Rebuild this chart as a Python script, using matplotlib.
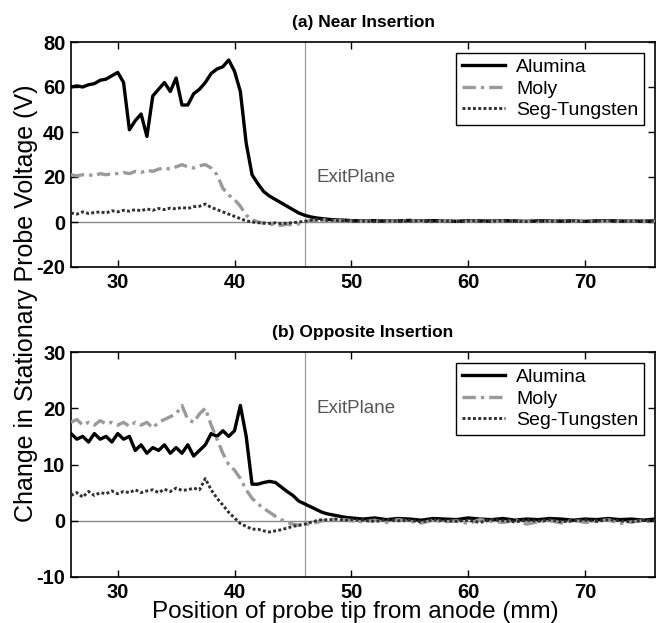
import numpy as np
import matplotlib
matplotlib.use("Agg")
import matplotlib.pyplot as plt

plt.rcParams['font.family'] = ['Liberation Sans', 'DejaVu Sans']
plt.rcParams['axes.unicode_minus'] = False

x = [26.0, 26.5, 27.0, 27.5, 28.0, 28.5, 29.0, 29.5, 30.0, 30.5,
     31.0, 31.5, 32.0, 32.5, 33.0, 33.5, 34.0, 34.5, 35.0, 35.5,
     36.0, 36.5, 37.0, 37.5, 38.0, 38.5, 39.0, 39.5, 40.0, 40.5,
     41.0, 41.5, 42.0, 42.5, 43.0, 43.5, 44.0, 44.5, 45.0, 45.5,
     46.0, 46.5, 47.0, 47.5, 48.0, 48.5, 49.0, 49.5, 50.0,
     51, 52, 53, 54, 55, 56, 57, 58, 59, 60, 61, 62, 63, 64, 65,
     66, 67, 68, 69, 70, 71, 72, 73, 74, 75, 76]

near_alumina = [60, 60.5, 60, 61, 61.5, 63, 63.5, 65, 66.5, 62,
                41, 45, 48, 38, 56, 59, 62, 58, 64, 52,
                52, 57, 59, 62, 66, 68, 69, 72, 67, 58,
                35, 21, 17, 13.5, 11.5, 10, 8.5, 7, 5.5, 4,
                3, 2.3, 1.8, 1.5, 1.2, 1.0, 0.9, 0.8, 0.6,
                0.5, 0.6, 0.4, 0.5, 0.7, 0.4, 0.6, 0.5, 0.3, 0.6, 0.5, 0.4, 0.6,
                0.5, 0.3, 0.5, 0.6, 0.4, 0.5, 0.3, 0.5, 0.6, 0.4, 0.5, 0.3, 0.6]
near_moly = [21, 20.5, 21, 21, 20.5, 21.5, 21, 21.5, 21.5, 22,
             21.5, 22.5, 22, 23, 22.5, 23.5, 24, 23.5, 24.5, 25.5,
             24.5, 24, 25, 25.5, 24, 21, 15, 12, 10, 7,
             3, 1, 0, -0.5, -1, -1.2, -1.5, -1, -1.3, -0.8,
             0, 0.5, 0.8, 1, 0.8, 0.6, 0.7, 0.5, 0.4,
             0.3, 0.5, 0.2, 0.4, 0.6, 0.3, 0.2, 0.5, 0.4, 0.3, 0.6, 0.2, 0.4,
             0.5, 0.3, 0.2, 0.4, 0.5, 0.3, 0.6, 0.2, 0.4, 0.3, 0.5, 0.2, 0.4]
near_segw = [4, 3.5, 4.5, 3.8, 4.2, 4.5, 4, 5, 4.5, 5.2,
             4.8, 5.5, 5, 5.8, 5.2, 6, 5.5, 6.2, 5.8, 6.5,
             6, 6.8, 7, 8, 6.5, 5.5, 4.5, 3.5, 2.5, 1.5,
             0.5, 0, -0.3, -0.5, -0.6, -0.4, -0.7, -0.5, -0.3, 0,
             0.3, 0.8, 1, 0.9, 0.7, 0.8, 0.5, 0.6, 0.4,
             0.4, 0.2, 0.5, 0.3, 0.4, 0.6, 0.3, 0.5, 0.2, 0.4, 0.7, 0.3, 0.5,
             0.4, 0.2, 0.6, 0.3, 0.4, 0.5, 0.2, 0.4, 0.6, 0.3, 0.4, 0.5, 0.3]

opp_alumina = [15.5, 14.5, 15, 14, 15.5, 14.5, 15, 14, 15.5, 14.5,
               15, 12.5, 13.5, 12, 13, 12.5, 13.5, 12, 13, 12,
               13.5, 11.5, 12.5, 13.5, 15.5, 15, 16, 15, 16, 20.5,
               15, 6.5, 6.5, 6.8, 7, 6.8, 6, 5.2, 4.5, 3.5,
               3, 2.5, 2, 1.5, 1.2, 1, 0.8, 0.6, 0.5,
               0.3, 0.5, 0.2, 0.4, 0.3, 0.1, 0.4, 0.3, 0.2, 0.5, 0.3, 0.2, 0.4,
               0.1, 0.3, 0.2, 0.4, 0.3, 0.1, 0.3, 0.2, 0.4, 0.2, 0.3, 0.1, 0.3]
opp_moly = [17.5, 18, 17, 17.5, 17, 17.8, 17.2, 17.5, 17, 17.5,
            16.8, 17.5, 17, 17.5, 16.5, 17.5, 18, 18.5, 19, 20.5,
            18, 17.5, 19, 20, 17, 14.5, 12, 10, 9, 7.5,
            5.5, 4, 3, 2.2, 1.5, 0.8, 0.2, -0.3, -0.6, -0.8,
            -0.7, -0.5, -0.3, 0, 0.2, 0.3, 0.1, 0.2, 0,
            -0.2, 0.1, -0.3, 0.2, -0.1, -0.4, 0.1, -0.2, 0, -0.5, 0.2, -0.1, -0.3,
            0.1, -0.6, -0.2, 0, -0.4, 0.1, -0.3, -0.1, 0.2, -0.5, -0.2, 0, -0.3]
opp_segw = [4.5, 5, 4.2, 5.2, 4.5, 5, 4.8, 5.3, 4.8, 5.2,
            5, 5.5, 5, 5.3, 5.5, 5, 5.6, 5.2, 5.8, 5.4,
            5.5, 5.8, 5.5, 7.5, 5.5, 4, 2.8, 1.5, 0.5, -0.5,
            -1, -1.5, -1.5, -1.8, -2, -1.8, -1.6, -1.3, -1.0, -0.8,
            -0.6, -0.3, 0, 0.2, 0.1, 0.3, 0.2, 0.1, 0.2,
            0.1, -0.1, 0.2, 0, 0.1, -0.2, 0.2, 0, -0.1, 0.1, -0.3, 0.2, 0,
            -0.2, 0.1, -0.1, 0.2, -0.2, 0, 0.1, -0.1, 0.2, 0, -0.2, 0.1, 0]

series_names = ['Alumina', 'Moly', 'Seg-Tungsten']
titles = ['(a) Near Insertion', '(b) Opposite Insertion']
exit_plane = 46
xticks = [30, 40, 50, 60, 70]
yticks_a = [-20, 0, 20, 40, 60, 80]
yticks_b = [-10, 0, 10, 20, 30]

fig = plt.figure(figsize=(6.58, 6.23), dpi=100)
W, H = 658, 623
def ax_rect(l, t, r, b):
    return [l / W, 1 - b / H, (r - l) / W, (b - t) / H]

ax1 = fig.add_axes(ax_rect(71, 42, 655, 267))
ax2 = fig.add_axes(ax_rect(71, 352, 655, 577))

styles = [dict(color='black', lw=2.4, ls='-'),
          dict(color='#9a9a9a', lw=2.4, ls=(0, (4, 1.5, 1, 1.5))),
          dict(color='#303030', lw=2.1, ls=(0, (1, 0.8)))]

panels = [(ax1, [near_alumina, near_moly, near_segw], (-20, 80), yticks_a, titles[0]),
          (ax2, [opp_alumina, opp_moly, opp_segw], (-10, 30), yticks_b, titles[1])]

for ax, data, ylim, yt, title in panels:
    ax.axhline(0, color='#8a8a8a', lw=1.0, zorder=1)
    ax.axvline(exit_plane, color='#9a9a9a', lw=0.9, zorder=1)
    for name, ys, st in zip(series_names, data, styles):
        ax.plot(x, ys, label=name, zorder=3, **st)
    ax.set_xlim(26, 76)
    ax.set_ylim(*ylim)
    ax.set_xticks(xticks)
    ax.set_yticks(yt)
    ax.tick_params(direction='in', top=True, right=True, length=5, width=1,
                   labelsize=14.5, pad=4)
    for lab in ax.get_xticklabels() + ax.get_yticklabels():
        lab.set_fontweight('bold')
    for sp in ax.spines.values():
        sp.set_linewidth(1.2)
    ax.text(47.0, 20, 'ExitPlane', fontsize=13.5, color='#555555', va='center', ha='left')
    ax.set_title(title, fontsize=12.5, fontweight='bold', pad=11)
    leg = ax.legend(loc='upper right', fontsize=14, frameon=True, fancybox=False,
                    edgecolor='black', framealpha=1, handlelength=2.2,
                    borderpad=0.3, labelspacing=0.2, handletextpad=0.6,
                    borderaxespad=0.55)
    leg.get_frame().set_linewidth(1.0)

fig.text(26 / W, (623 - 303) / 623, 'Change in Stationary Probe Voltage (V)', rotation=90,
         fontsize=18, va='center', ha='center')
fig.text(0.54, 1 - 612 / 623, 'Position of probe tip from anode (mm)', fontsize=17.5,
         va='center', ha='center')

fig.savefig('out.png', dpi=100)
